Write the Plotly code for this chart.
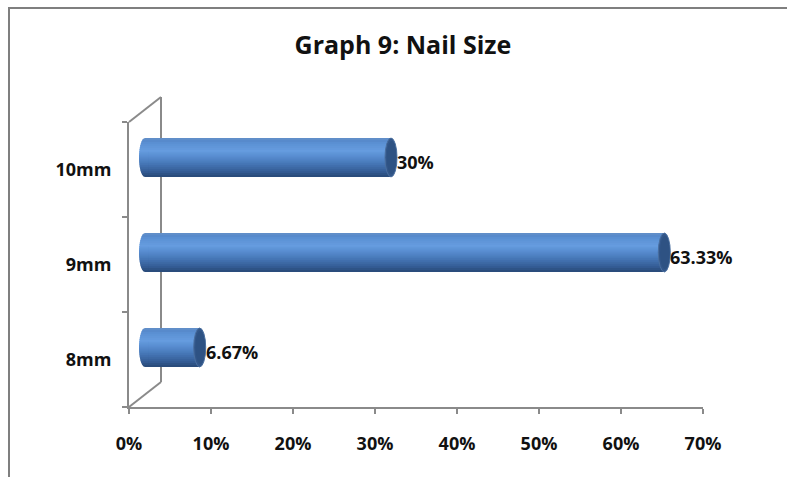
import plotly.graph_objects as go
import numpy as np

# ---- data ----
categories = ["8mm", "9mm", "10mm"]
values = [6.67, 63.33, 30]
x_ticks = [0, 10, 20, 30, 40, 50, 60, 70]
x_tick_labels = ["0%", "10%", "20%", "30%", "40%", "50%", "60%", "70%"]
title_text = "Graph 9: Nail Size"

# ---- geometry (pixels) ----
W, H = 787, 477
FX0, FX1 = 129, 703      # front x-axis span
FY0, FY1 = 407, 122      # front y-axis span (bottom, top)
DX, DY = 16, 12          # depth offset of bar plane
BX, BY = 32, 25          # depth offset of back wall
XMAX = 70
SCALE = (FX1 - FX0) / XMAX   # px per percent
X2MIN = -1.5                 # extra room on bar axis for left cylinder caps

def px(x):
    return x / W

def py(y):
    return (H - y) / H

FONT = "Open Sans"
AXC = "#8a8a8a"

# ---- cylinder shading (colour stops from bottom t=-1 to top t=1) ----
stops = [(-1.0, (0x28, 0x48, 0x76)), (-0.7, (0x35, 0x5e, 0x97)),
         (-0.3, (0x47, 0x78, 0xb8)), (0.1, (0x5a, 0x8f, 0xd3)),
         (0.35, (0x66, 0x9c, 0xdf)), (0.7, (0x5c, 0x91, 0xd4)),
         (0.9, (0x55, 0x88, 0xca)), (1.0, (0x6a, 0x93, 0xc8))]

def shade(t):
    for (t0, c0), (t1, c1) in zip(stops[:-1], stops[1:]):
        if t0 <= t <= t1:
            f = (t - t0) / (t1 - t0)
            c = [round(a + (b - a) * f) for a, b in zip(c0, c1)]
            return "#%02x%02x%02x" % tuple(c)
    return "#%02x%02x%02x" % stops[-1][1]

NB = 20
edges = np.linspace(-1, 1, NB + 1)
layers = []
for k in range(NB):
    lo = edges[k]
    hi = edges[k + 1] + (0.04 if k < NB - 1 else 0)
    layers.append((lo, min(hi, 1.0), shade((edges[k] + edges[k + 1]) / 2)))

fig = go.Figure()

# invisible trace to establish front axes
fig.add_trace(go.Scatter(x=[0] * len(categories), y=categories, mode="markers",
                         marker=dict(opacity=0), hoverinfo="skip", showlegend=False,
                         xaxis="x", yaxis="y"))

h = 0.205
ypos = list(range(len(categories)))
for lo, hi, col in layers:
    fig.add_trace(go.Bar(
        x=values, y=ypos, orientation="h", base=0,
        width=(hi - lo) * h, offset=lo * h,
        marker=dict(color=col, line=dict(width=0)),
        hoverinfo="skip", showlegend=False,
        xaxis="x2", yaxis="y2"))

shapes = []
annotations = []

cap_a = 6 / SCALE   # cap semi-axis in value units
# left caps (half ellipse per shading band)
for i in ypos:
    for lo, hi, col in layers:
        ts = np.linspace(lo, hi, 6)
        pts = [(0.4, i + lo * h)]
        for t in ts:
            xx = -cap_a * np.sqrt(max(0.0, 1 - t * t))
            pts.append((xx, i + t * h))
        pts.append((0.4, i + hi * h))
        path = "M " + " L ".join(f"{a:.4f},{b:.4f}" for a, b in pts) + " Z"
        shapes.append(dict(type="path", path=path, xref="x2", yref="y2",
                           fillcolor=col, line=dict(width=0), layer="above"))

# right caps + value labels
for i, v in zip(ypos, values):
    shapes.append(dict(type="circle", xref="x2", yref="y2",
                       x0=v - cap_a, x1=v + cap_a, y0=i - h, y1=i + h,
                       fillcolor="#33578a", line=dict(color="#4a6f9f", width=1),
                       layer="above"))
    shapes.append(dict(type="circle", xref="x2", yref="y2",
                       x0=v - cap_a * 0.7, x1=v + cap_a * 0.9, y0=i - h * 0.85, y1=i + h * 0.85,
                       fillcolor="#2e5283", line=dict(width=0), layer="above"))
    annotations.append(dict(x=v + cap_a, y=i, xref="x2", yref="y2",
                            text=f"{v:g}%", showarrow=False, xanchor="left",
                            yanchor="middle", xshift=-2, yshift=-4,
                            font=dict(family=FONT, size=18, color="#111111", weight="bold")))

# 3D frame: back wall and diagonals
line = dict(color=AXC, width=2)
shapes += [
    dict(type="line", xref="paper", yref="paper", x0=px(FX0 + BX), x1=px(FX0 + BX),
         y0=py(FY0 - BY), y1=py(FY1 - BY), line=line, layer="below"),
    dict(type="line", xref="paper", yref="paper", x0=px(FX0), x1=px(FX0 + BX),
         y0=py(FY1), y1=py(FY1 - BY), line=line, layer="below"),
    dict(type="line", xref="paper", yref="paper", x0=px(FX0), x1=px(FX0 + BX),
         y0=py(FY0), y1=py(FY0 - BY), line=line, layer="below"),
    # outer chart border (top and left)
    dict(type="line", xref="paper", yref="paper", x0=px(8), x1=1.0,
         y0=py(8), y1=py(8), line=dict(color="#7f7f7f", width=2)),
    dict(type="line", xref="paper", yref="paper", x0=px(9), x1=px(9),
         y0=py(8), y1=0.0, line=dict(color="#7f7f7f", width=2)),
]

tickfont = dict(family=FONT, size=18, color="#111111", weight="bold")

fig.update_layout(
    width=W, height=H,
    margin=dict(l=0, r=0, t=0, b=0, autoexpand=False),
    paper_bgcolor="white", plot_bgcolor="rgba(0,0,0,0)",
    barmode="overlay",
    showlegend=False,
    title=dict(text=title_text, x=0.512, xanchor="center", y=py(45), yanchor="middle",
               font=dict(family=FONT, size=25, color="#111111", weight="bold"),
               automargin=False),
    xaxis=dict(domain=[px(FX0), px(FX1)], range=[0, XMAX], tickvals=x_ticks,
               ticktext=x_tick_labels, showline=True, linecolor=AXC, linewidth=2,
               ticks="outside", ticklen=5, tickwidth=2, tickcolor=AXC,
               showgrid=False, zeroline=False, tickfont=tickfont, automargin=False,
               ticklabelstandoff=14, anchor="y", fixedrange=True),
    yaxis=dict(domain=[py(FY0), py(FY1)], type="category",
               categoryorder="array", categoryarray=categories,
               range=[-0.5, len(categories) - 0.5],
               showline=True, linecolor=AXC, linewidth=2,
               ticks="outside", ticklen=5, tickwidth=2, tickcolor=AXC,
               tickson="boundaries", showgrid=False, zeroline=False, automargin=False,
               tickfont=tickfont, ticklabelstandoff=12, anchor="x", fixedrange=True),
    xaxis2=dict(domain=[px(FX0 + DX + X2MIN * SCALE), px(FX1 + DX)], range=[X2MIN, XMAX],
                visible=False, anchor="y2", fixedrange=True, automargin=False),
    yaxis2=dict(domain=[py(FY0 - DY), py(FY1 - DY)], range=[-0.5, len(categories) - 0.5],
                visible=False, anchor="x2", fixedrange=True, automargin=False),
    shapes=shapes,
    annotations=annotations,
)

fig.write_html("out.html")
